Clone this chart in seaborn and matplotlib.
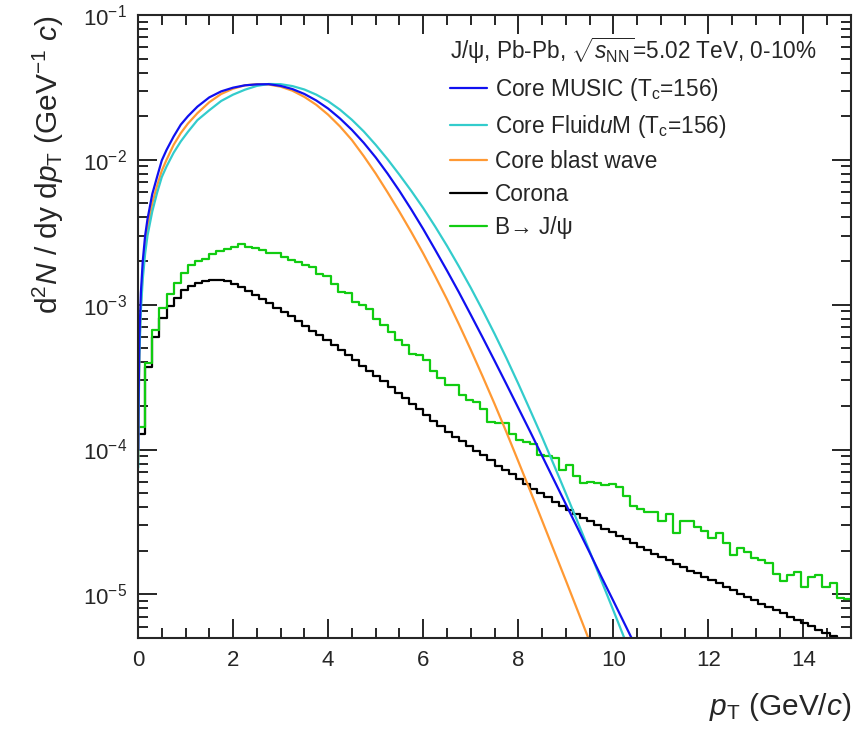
import numpy as np
import pandas as pd
import matplotlib
matplotlib.use("Agg")
import matplotlib.pyplot as plt
from matplotlib.lines import Line2D
from matplotlib.ticker import MultipleLocator, LogLocator, NullFormatter, LogFormatterMathtext
import seaborn as sns

sns.set_style("ticks")
plt.rcParams["font.family"] = ["Liberation Sans", "DejaVu Sans"]
plt.rcParams["mathtext.fontset"] = "custom"
plt.rcParams["mathtext.rm"] = "Liberation Sans"
plt.rcParams["mathtext.it"] = "Liberation Sans:italic"
plt.rcParams["mathtext.bf"] = "Liberation Sans:bold"
plt.rcParams["mathtext.sf"] = "Liberation Sans"

# ---- core (hydro / blast-wave) spectra, dN/dy dpT in GeV^-1 c ----
pt_core = [0.005, 0.01, 0.03, 0.06, 0.1, 0.15, 0.2, 0.3, 0.4, 0.5, 0.6, 0.75, 0.9, 1.05,
           1.25, 1.5, 1.75, 2.0, 2.25, 2.5, 2.75, 3.0, 3.25, 3.5, 3.75, 4.0, 4.25, 4.5,
           4.75, 5.0, 5.25, 5.5, 5.75, 6.0, 6.25, 6.5, 6.75, 7.0, 7.25, 7.5, 7.75, 8.0,
           8.25, 8.5, 8.75, 9.0, 9.25, 9.5, 9.75, 10.0, 10.25, 10.5]

core_music = [1.0e-4, 2.0e-4, 6.0e-4, 1.2e-3, 2.0e-3, 3.0e-3, 3.9e-3, 5.8e-3, 7.6e-3, 9.9e-3,
              1.17e-2, 1.45e-2, 1.75e-2, 2.0e-2, 2.33e-2, 2.7e-2, 2.97e-2, 3.15e-2, 3.27e-2,
              3.32e-2, 3.33e-2, 3.24e-2, 3.08e-2, 2.85e-2, 2.57e-2, 2.26e-2, 1.93e-2, 1.61e-2,
              1.31e-2, 1.04e-2, 8.04e-3, 6.10e-3, 4.54e-3, 3.33e-3, 2.40e-3, 1.72e-3, 1.22e-3,
              8.53e-4, 5.94e-4, 4.11e-4, 2.83e-4, 1.94e-4, 1.33e-4, 9.06e-5, 6.17e-5, 4.20e-5,
              2.86e-5, 1.95e-5, 1.32e-5, 9.02e-6, 6.14e-6, 4.18e-6]

core_fluidum = [7.5e-5, 1.5e-4, 4.5e-4, 9.0e-4, 1.5e-3, 2.25e-3, 3.0e-3, 4.4e-3, 5.9e-3, 7.6e-3,
                9.0e-3, 1.12e-2, 1.34e-2, 1.56e-2, 1.88e-2, 2.2e-2, 2.55e-2, 2.82e-2, 3.05e-2,
                3.24e-2, 3.34e-2, 3.33e-2, 3.23e-2, 3.06e-2, 2.82e-2, 2.54e-2, 2.22e-2, 1.89e-2,
                1.57e-2, 1.27e-2, 1.01e-2, 7.89e-3, 6.10e-3, 4.65e-3, 3.47e-3, 2.55e-3, 1.84e-3,
                1.31e-3, 9.16e-4, 6.31e-4, 4.28e-4, 2.85e-4, 1.87e-4, 1.22e-4, 7.83e-5, 4.99e-5,
                3.16e-5, 1.99e-5, 1.24e-5, 7.76e-6, 4.82e-6, 2.99e-6]

core_blastwave = [8.5e-5, 1.7e-4, 5.1e-4, 1.0e-3, 1.7e-3, 2.55e-3, 3.35e-3, 5.0e-3, 6.6e-3, 8.4e-3,
                  1.0e-2, 1.27e-2, 1.53e-2, 1.78e-2, 2.1e-2, 2.5e-2, 2.85e-2, 3.1e-2, 3.27e-2,
                  3.33e-2, 3.31e-2, 3.2e-2, 3.0e-2, 2.72e-2, 2.40e-2, 2.05e-2, 1.70e-2, 1.37e-2,
                  1.06e-2, 8.05e-3, 5.97e-3, 4.38e-3, 3.17e-3, 2.26e-3, 1.58e-3, 1.09e-3, 7.35e-4,
                  4.89e-4, 3.20e-4, 2.07e-4, 1.32e-4, 8.30e-5, 5.20e-5, 3.24e-5, 2.01e-5, 1.25e-5,
                  7.71e-6, 4.75e-6, 2.93e-6, 1.81e-6, 1.11e-6, 6.87e-7]

# ---- histogrammed components: 100 bins of 0.15 GeV/c between 0 and 15 ----
bin_width = 0.15
bin_range = (0.0, 15.0)

corona = [1.29e-4, 3.72e-4, 6.03e-4, 8.13e-4, 9.77e-4, 1.12e-3, 1.26e-3, 1.35e-3, 1.41e-3, 1.46e-3,
          1.48e-3, 1.47e-3, 1.45e-3, 1.40e-3, 1.32e-3, 1.24e-3, 1.17e-3, 1.10e-3, 1.02e-3, 9.55e-4,
          8.91e-4, 8.32e-4, 7.67e-4, 7.16e-4, 6.61e-4, 6.17e-4, 5.69e-4, 5.31e-4, 4.90e-4, 4.47e-4,
          4.12e-4, 3.80e-4, 3.47e-4, 3.20e-4, 2.95e-4, 2.69e-4, 2.45e-4, 2.26e-4, 2.07e-4, 1.91e-4,
          1.74e-4, 1.58e-4, 1.45e-4, 1.33e-4, 1.23e-4, 1.14e-4, 1.06e-4, 9.77e-5, 9.12e-5, 8.41e-5,
          7.76e-5, 7.24e-5, 6.76e-5, 6.24e-5, 5.82e-5, 5.37e-5, 5.01e-5, 4.68e-5, 4.37e-5, 4.07e-5,
          3.80e-5, 3.59e-5, 3.39e-5, 3.20e-5, 3.02e-5, 2.85e-5, 2.69e-5, 2.54e-5, 2.40e-5, 2.26e-5,
          2.14e-5, 2.02e-5, 1.91e-5, 1.82e-5, 1.72e-5, 1.62e-5, 1.55e-5, 1.46e-5, 1.40e-5, 1.32e-5,
          1.26e-5, 1.19e-5, 1.12e-5, 1.07e-5, 1.01e-5, 9.55e-6, 9.12e-6, 8.61e-6, 8.22e-6, 7.76e-6,
          7.41e-6, 7.00e-6, 6.68e-6, 6.31e-6, 6.03e-6, 5.69e-6, 5.43e-6, 5.13e-6, 4.90e-6, 4.68e-6]

b_feeddown = [1.43e-4, 3.95e-4, 6.7e-4, 9.5e-4, 1.18e-3, 1.41e-3, 1.66e-3, 1.88e-3, 2.01e-3, 2.08e-3,
              2.23e-3, 2.35e-3, 2.44e-3, 2.51e-3, 2.62e-3, 2.51e-3, 2.48e-3, 2.38e-3, 2.28e-3, 2.26e-3,
              2.12e-3, 2.05e-3, 1.98e-3, 1.88e-3, 1.81e-3, 1.64e-3, 1.58e-3, 1.40e-3, 1.23e-3, 1.20e-3,
              1.05e-3, 9.9e-4, 9.4e-4, 8.0e-4, 7.2e-4, 6.5e-4, 5.7e-4, 5.26e-4, 4.6e-4, 4.5e-4,
              4.15e-4, 3.5e-4, 3.1e-4, 2.8e-4, 2.8e-4, 2.38e-4, 2.2e-4, 2.14e-4, 1.92e-4, 1.56e-4,
              1.52e-4, 1.52e-4, 1.29e-4, 1.16e-4, 1.13e-4, 1.10e-4, 9.2e-5, 9.0e-5, 8.8e-5, 7.2e-5,
              7.8e-5, 6.6e-5, 5.9e-5, 6.0e-5, 5.85e-5, 5.7e-5, 5.75e-5, 5.5e-5, 4.8e-5, 4.1e-5,
              3.9e-5, 3.7e-5, 3.7e-5, 3.2e-5, 3.6e-5, 2.67e-5, 3.2e-5, 3.2e-5, 2.9e-5, 2.75e-5,
              2.44e-5, 2.64e-5, 2.25e-5, 1.87e-5, 2.08e-5, 1.97e-5, 1.77e-5, 1.73e-5, 1.65e-5, 1.38e-5,
              1.24e-5, 1.36e-5, 1.42e-5, 1.13e-5, 1.32e-5, 1.37e-5, 1.13e-5, 1.2e-5, 9.4e-6, 9.3e-6]

labels = ["Core MUSIC (T$_{\\rm c}$=156)",
          "Core Fluid$\\it{u}$M (T$_{\\rm c}$=156)",
          "Core blast wave",
          "Corona",
          "B→ J/ψ"]
colors = ["#1010f0", "#33cccc", "#ff9933", "#000000", "#11cc11"]
header = "J/ψ, Pb-Pb, $\\sqrt{s_{\\rm NN}}$=5.02 TeV, 0-10%"

W, H = 858, 736
fig = plt.figure(figsize=(W / 100, H / 100), dpi=100)
ax = fig.add_axes([138 / W, (H - 638) / H, 713 / W, 623 / H])

lw = 1.6
n_bins = len(corona)
centers = bin_range[0] + bin_width * (np.arange(n_bins) + 0.5)
hist_df = pd.DataFrame({"pt": centers, "corona": corona, "bfeed": b_feeddown})
for wcol, col in [("corona", colors[3]), ("bfeed", colors[4])]:
    sns.histplot(data=hist_df, x="pt", weights=wcol, binwidth=bin_width, binrange=bin_range,
                 element="step", fill=False, color=col, linewidth=lw, ax=ax)

core_df = pd.DataFrame({"pt": pt_core, "music": core_music, "fluidum": core_fluidum,
                        "blastwave": core_blastwave})
for col_name, col in zip(["blastwave", "fluidum", "music"], [colors[2], colors[1], colors[0]]):
    sns.lineplot(data=core_df, x="pt", y=col_name, color=col, linewidth=lw, estimator=None,
                 sort=False, ax=ax)

ax.set_yscale("log")
ax.set_xlim(0, 15)
ax.set_ylim(5e-6, 0.1)

# ROOT-like frame: ticks inside on all four sides
for sp in ax.spines.values():
    sp.set_linewidth(1.5)
    sp.set_visible(True)
ax.xaxis.set_major_locator(MultipleLocator(2))
ax.xaxis.set_minor_locator(MultipleLocator(0.5))
ax.yaxis.set_major_locator(LogLocator(base=10))
ax.yaxis.set_minor_locator(LogLocator(base=10, subs=np.arange(2, 10)))
ax.yaxis.set_major_formatter(LogFormatterMathtext())
ax.yaxis.set_minor_formatter(NullFormatter())
ax.tick_params(which="both", direction="in", top=True, right=True, width=1.4, labelsize=16)
ax.tick_params(which="major", length=14)
ax.tick_params(which="minor", length=7)
ax.tick_params(axis="x", which="major", pad=9)
ax.tick_params(axis="y", which="major", pad=8)

ax.set_xlabel("$\\it{p}_{\\rm T}$ (GeV/$\\it{c}$)", fontsize=21.5, loc="right", labelpad=14)
ax.set_ylabel("d$^{2}$$\\it{N}$ / dy d$\\it{p}_{\\rm T}$ (GeV$^{-1}$ $\\it{c}$)", fontsize=21.5,
              loc="top", labelpad=12)

handles = [Line2D([], [], color=c, lw=lw) for c in colors]
leg = ax.legend(handles, labels, title=header, loc="upper left", bbox_to_anchor=(0.425, 0.982),
                frameon=False, fontsize=16.3, title_fontsize=16.3, handlelength=1.65,
                handletextpad=0.35, labelspacing=0.44, alignment="left", borderaxespad=0.0)

fig.savefig("out.png", dpi=100)
